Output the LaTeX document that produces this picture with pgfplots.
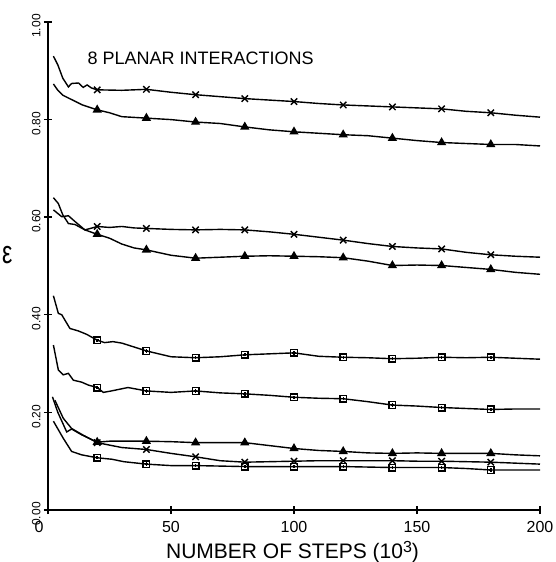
\documentclass[border=0pt]{standalone}
\usepackage{fontspec}
\setmainfont{Liberation Sans}
\usepackage{pgfplots}
\pgfplotsset{compat=1.18}

% square with a small cross inside, like the plotter marks
\pgfdeclareplotmark{boxplus}{%
  \pgfpathrectangle{\pgfpoint{-\pgfplotmarksize}{-\pgfplotmarksize}}{\pgfpoint{2\pgfplotmarksize}{2\pgfplotmarksize}}%
  \pgfpathmoveto{\pgfpoint{-0.5\pgfplotmarksize}{0pt}}\pgfpathlineto{\pgfpoint{0.5\pgfplotmarksize}{0pt}}%
  \pgfpathmoveto{\pgfpoint{0pt}{-0.5\pgfplotmarksize}}\pgfpathlineto{\pgfpoint{0pt}{0.5\pgfplotmarksize}}%
  \pgfusepathqstroke}

\begin{document}
\begin{tikzpicture}
 \begin{axis}[scale only axis,width=492pt,height=488pt,
   xmin=0,xmax=200,ymin=0,ymax=1,
   axis lines=left,axis line style={-,line width=1.4pt},
   xtick={50,100,150,200},xticklabels={50,100,150,200},
   extra x ticks={0},extra x tick labels={0},
   extra x tick style={xticklabel style={xshift=-9pt}},
   ytick={0,0.2,0.4,0.6,0.8,1},yticklabels={0.00,0.20,0.40,0.60,0.80,1.00},
   tick align=center,major tick length=8pt,tick style={line width=1.4pt,black},
   xticklabel style={font=\fontsize{16}{16}\selectfont,yshift=-4pt},
   yticklabel style={font=\fontsize{12}{12}\selectfont,rotate=90,anchor=south,xshift=-4pt},
   xlabel={NUMBER OF STEPS (10\raisebox{0.55ex}{\fontsize{16}{16}\selectfont 3})},
   xlabel style={at={(axis description cs:0.497,-0.0855)},anchor=center,font=\fontsize{21}{21}\selectfont},
   ylabel={\scalebox{0.72}[1]{\fontsize{32}{32}\selectfont ε}},
   ylabel style={rotate=-90,at={(axis description cs:-0.083,0.523)},anchor=center},
   every axis plot/.append style={black,line width=1.4pt}]

  % 8 curves
  \addplot[no marks] coordinates {(2.2,0.930)(4,0.912)(6,0.885)(8.3,0.867)(9.6,0.874)(12.4,0.875)(14.3,0.866)(15.9,0.871)(17.6,0.865)(20,0.861)(30,0.860)(40,0.862)(50,0.856)(60,0.851)(70,0.847)(80,0.843)(90,0.840)(100,0.837)(110,0.833)(120,0.830)(130,0.828)(140,0.826)(150,0.824)(160,0.822)(170,0.817)(180,0.814)(190,0.809)(200,0.805)};
  \addplot[no marks] coordinates {(2.2,0.873)(4,0.860)(6,0.850)(8,0.845)(10,0.840)(14,0.830)(20,0.820)(25,0.814)(30,0.806)(40,0.803)(50,0.800)(60,0.795)(70,0.792)(80,0.785)(90,0.779)(100,0.775)(110,0.772)(120,0.769)(130,0.767)(140,0.762)(150,0.757)(160,0.753)(170,0.751)(180,0.749)(190,0.749)(200,0.746)};
  \addplot[no marks] coordinates {(2.2,0.640)(4.2,0.628)(6,0.605)(8.3,0.587)(11,0.585)(15,0.574)(18,0.578)(20,0.581)(25,0.579)(30,0.581)(35,0.578)(40,0.577)(50,0.575)(60,0.574)(70,0.575)(80,0.574)(90,0.570)(100,0.565)(110,0.559)(120,0.553)(130,0.546)(140,0.540)(150,0.537)(160,0.535)(170,0.528)(180,0.523)(190,0.520)(200,0.518)};
  \addplot[no marks] coordinates {(2.2,0.615)(5.6,0.601)(8.3,0.603)(11,0.591)(15,0.574)(20,0.565)(25,0.557)(30,0.545)(35,0.537)(40,0.533)(50,0.522)(60,0.516)(70,0.518)(80,0.520)(90,0.521)(100,0.520)(110,0.519)(120,0.517)(130,0.510)(140,0.501)(150,0.502)(160,0.501)(170,0.497)(180,0.493)(190,0.487)(200,0.483)};
  \addplot[no marks] coordinates {(2.2,0.439)(4.2,0.403)(5.6,0.400)(8.9,0.372)(12.3,0.367)(15.7,0.360)(20,0.348)(23,0.343)(26.4,0.345)(30,0.342)(40,0.326)(50,0.314)(60,0.312)(70,0.314)(80,0.318)(90,0.320)(100,0.322)(110,0.315)(120,0.313)(130,0.312)(140,0.310)(150,0.311)(160,0.313)(170,0.312)(180,0.313)(190,0.311)(200,0.309)};
  \addplot[no marks] coordinates {(2.2,0.338)(4.2,0.287)(6.2,0.277)(8.3,0.280)(10.3,0.266)(13.7,0.262)(16.4,0.256)(20,0.251)(22.5,0.241)(25.8,0.244)(32.5,0.251)(40,0.244)(50,0.241)(60,0.244)(70,0.240)(80,0.238)(90,0.235)(100,0.231)(110,0.229)(120,0.228)(130,0.222)(140,0.215)(150,0.213)(160,0.210)(170,0.208)(180,0.206)(190,0.207)(200,0.207)};
  \addplot[no marks] coordinates {(1.8,0.232)(4,0.200)(7.6,0.160)(9.6,0.166)(13.7,0.154)(20,0.139)(25,0.141)(30,0.141)(40,0.141)(50,0.140)(60,0.138)(70,0.138)(80,0.138)(90,0.132)(100,0.126)(110,0.122)(120,0.120)(130,0.117)(140,0.116)(150,0.117)(160,0.116)(170,0.116)(180,0.116)(190,0.113)(200,0.111)};
  \addplot[no marks] coordinates {(2.8,0.225)(6.2,0.188)(9.6,0.167)(13.7,0.155)(20,0.138)(25,0.133)(30,0.128)(35,0.126)(40,0.124)(50,0.116)(60,0.109)(70,0.101)(80,0.098)(90,0.099)(100,0.100)(110,0.101)(120,0.101)(130,0.101)(140,0.101)(150,0.100)(160,0.100)(170,0.099)(180,0.098)(190,0.096)(200,0.094)};
  \addplot[no marks] coordinates {(2.2,0.182)(6.2,0.147)(9.6,0.120)(13.7,0.113)(20,0.107)(26,0.104)(30.8,0.099)(40,0.094)(50,0.091)(60,0.091)(70,0.090)(80,0.089)(90,0.089)(100,0.089)(110,0.089)(120,0.089)(130,0.088)(140,0.087)(150,0.087)(160,0.087)(170,0.085)(180,0.082)(190,0.082)(200,0.082)};

  % marks
  \addplot[only marks,mark=x,mark size=4.5pt] coordinates {(20,0.861)(40,0.862)(60,0.851)(80,0.843)(100,0.837)(120,0.830)(140,0.826)(160,0.822)(180,0.814)};
  \addplot[only marks,mark=triangle*,mark size=4pt] coordinates {(20,0.820)(40,0.803)(60,0.795)(80,0.785)(100,0.775)(120,0.769)(140,0.762)(160,0.753)(180,0.749)};
  \addplot[only marks,mark=x,mark size=4.5pt] coordinates {(20,0.581)(40,0.577)(60,0.574)(80,0.574)(100,0.565)(120,0.553)(140,0.540)(160,0.535)(180,0.523)};
  \addplot[only marks,mark=triangle*,mark size=4pt] coordinates {(20,0.565)(40,0.533)(60,0.516)(80,0.520)(100,0.520)(120,0.517)(140,0.501)(160,0.501)(180,0.493)};
  \addplot[only marks,mark=boxplus,mark size=3.3pt] coordinates {(20,0.348)(40,0.326)(60,0.312)(80,0.318)(100,0.322)(120,0.313)(140,0.310)(160,0.313)(180,0.313)};
  \addplot[only marks,mark=boxplus,mark size=3.3pt] coordinates {(20,0.251)(40,0.244)(60,0.244)(80,0.238)(100,0.231)(120,0.228)(140,0.215)(160,0.210)(180,0.206)};
  \addplot[only marks,mark=triangle*,mark size=4pt] coordinates {(20,0.139)(40,0.141)(60,0.138)(80,0.138)(100,0.126)(120,0.120)(140,0.116)(160,0.116)(180,0.116)};
  \addplot[only marks,mark=x,mark size=4.5pt] coordinates {(20,0.138)(40,0.124)(60,0.109)(80,0.098)(100,0.100)(120,0.101)(140,0.101)(160,0.100)(180,0.098)};
  \addplot[only marks,mark=boxplus,mark size=3.3pt] coordinates {(20,0.107)(40,0.094)(60,0.091)(80,0.089)(100,0.089)(120,0.089)(140,0.087)(160,0.087)(180,0.082)};

  \node[anchor=west,inner sep=0pt,font=\fontsize{18}{18}\selectfont] at (axis cs:16,0.926) {8 PLANAR INTERACTIONS};
 \end{axis}
 \pgfresetboundingbox
 \useasboundingbox (-48pt,-52pt) rectangle (507pt,510pt);
\end{tikzpicture}
\end{document}
